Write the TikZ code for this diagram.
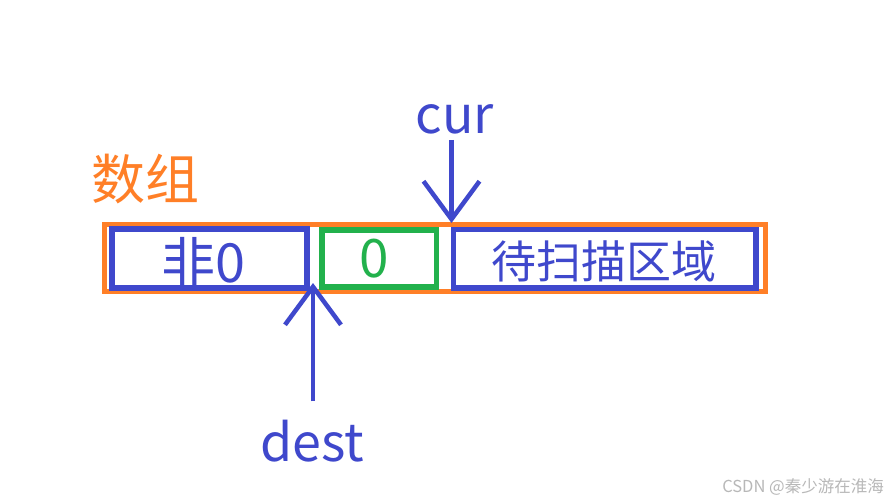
\documentclass[tikz,border=0pt]{standalone}
\usepackage{fontspec}
\setmainfont{Noto Sans CJK SC}
\usetikzlibrary{arrows.meta}
\definecolor{pblue}{HTML}{3F48CC}
\definecolor{porange}{HTML}{FF7F27}
\definecolor{pgreen}{HTML}{22B14C}
\begin{document}
\begin{tikzpicture}[x=1pt,y=-1pt,
  cell/.style={draw=pblue,line width=5.5pt,inner sep=0pt,outer sep=0pt,anchor=north west},
  zcell/.style={draw=pgreen,line width=5.5pt,inner sep=0pt,outer sep=0pt,anchor=north west},
  lbl/.style={text=pblue,inner sep=0pt},
  arr/.style={draw=pblue,line width=4.5pt,-{Straight Barb[length=38pt,width=56pt,line width=4.5pt]}}]
\useasboundingbox[fill=white] (0,0) rectangle (889,503);
% outer array
\node[draw=porange,line width=5pt,inner sep=0pt,outer sep=0pt,minimum width=661pt,minimum height=67pt,anchor=north west] (arr) at (104.5,224) {};
\node[text=porange,inner sep=0pt,font=\fontsize{54}{60}\selectfont] (title) at (145,179) {数组};
% cells
\node[cell,minimum width=195pt,minimum height=59pt] (c1) at (112,229) {};
\node[zcell,minimum width=114.5pt,minimum height=57pt] (c2) at (322,230) {};
\node[cell,minimum width=302.5pt,minimum height=58.5pt] (c3) at (453.5,229.5) {};
\node[lbl,font=\fontsize{54}{60}\selectfont,anchor=base] (t1) at (203,282) {非0};
\node[text=pgreen,inner sep=0pt,font=\fontsize{53}{60}\selectfont,anchor=base] (t2) at (374,277) {0};
\node[lbl,font=\fontsize{45}{52}\selectfont] (t3) at (604,261) {待扫描区域};
% pointers
\node[lbl,font=\fontsize{52}{60}\selectfont,anchor=base] (cur) at (455,133) {cur};
\node[lbl,font=\fontsize{52}{60}\selectfont,anchor=base] (dest) at (312,461) {dest};
\coordinate (curtip) at (451.5,223);
\coordinate (desttip) at (313,283);
\draw[arr] (cur.south -| curtip) ++(0,6) -- (curtip);
\draw[arr] (dest.north -| desttip) ++(0,-18) -- (desttip);
% watermark
\node[text=black!28,inner sep=0pt,font=\fontsize{16.5}{18}\selectfont,anchor=east] (wm) at (884,487) {CSDN @秦少游在淮海};
\end{tikzpicture}
\end{document}
